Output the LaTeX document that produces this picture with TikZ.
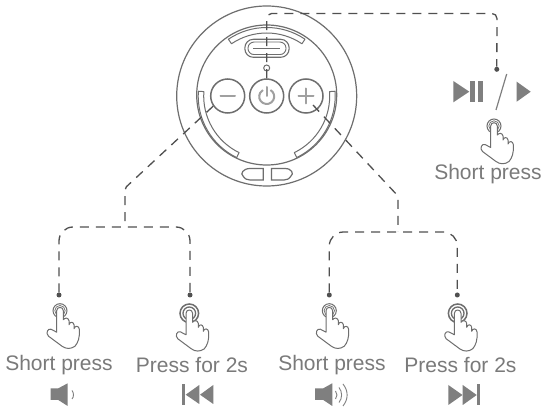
\documentclass[tikz,border=0pt]{standalone}
\usepackage{fontspec}
\usetikzlibrary{calc}
\setmainfont{Liberation Sans}
\definecolor{txt}{HTML}{7A7A7A}
\definecolor{ico}{HTML}{7F7F7F}
\definecolor{ln}{HTML}{505050}
\definecolor{dev}{HTML}{6E6E6E}
\definecolor{sym}{HTML}{A0A0A0}
\tikzset{
  x=1pt,y=-1pt,
  conn/.style={draw=ln,line width=1.3pt,dash pattern=on 9pt off 7pt,rounded corners=14pt},
  dotnode/.style={circle,fill=ln,draw=none,minimum size=5pt,inner sep=0pt},
  lab/.style={anchor=base,text=txt,font=\fontsize{21}{21}\selectfont,inner sep=0pt},
  ringline/.style={draw=dev,line width=1pt},
  devline/.style={draw=dev,line width=1.2pt},
  btn/.style={circle,draw=dev,line width=1.5pt,minimum size=34pt,inner sep=0pt},
  symline/.style={draw=sym,line width=2pt,line cap=round},
  iconfill/.style={fill=ico,draw=none},
  pics/handshape/.style={code={
    \draw[ringline,fill=white,line join=round]
      (-3.3,20) -- (-3.3,0) .. controls (-3.3,-4.4) and (3.3,-4.4) .. (3.3,0) -- (3.3,9)
      .. controls (5,6.5) and (8.5,7) .. (9,10) -- (9,14)
      .. controls (10,10.5) and (13.5,11) .. (14,14) -- (14,18)
      .. controls (15,14.5) and (19,15) .. (19.3,18.5)
      .. controls (20,27) and (18,32) .. (15,35.5)
      .. controls (11,38.5) and (6,38.5) .. (2,35.5)
      -- (-11.5,25.5)
      .. controls (-14.5,22.5) and (-12.5,17.5) .. (-9,18.5)
      -- (-3.3,21.5) -- cycle;
  }},
  pics/shorthand/.style={code={
    \draw[ringline] (0,0) circle[radius=7];
    \draw[draw=dev,line width=.7pt] (0,0) circle[radius=5.2];
    \pic {handshape};
  }},
  pics/longhand/.style={code={
    \draw[draw=dev,line width=1.5pt] (0,0) circle[radius=9.3];
    \draw[draw=dev,line width=1.3pt] (0,0) circle[radius=6.3];
    \pic {handshape};
  }},
}
\begin{document}
\begin{tikzpicture}
\useasboundingbox (0,0) rectangle (550,414);
\fill[white] (0,0) rectangle (550,414);
% device body
\draw[devline] (266.7,96) circle[radius=90];
\draw[devline] (266.7,95) circle[radius=70];
% light arcs
\foreach \a/\b in {-124/-56,116/184,-4/64}{
  \draw[devline,line width=1pt,fill=white,line join=round]
    ($(266.7,96)+(\a:68.5)$) arc[start angle=\a,end angle=\b,radius=68.5]
    -- ($(266.7,96)+(\b:63)$) arc[start angle=\b,end angle=\a,radius=63] -- cycle;
}
% top oblong button
\node[draw=dev,line width=1.1pt,rounded corners=8.5pt,minimum width=44.3pt,minimum height=18pt,inner sep=0pt] (oblong) at (267,48.3) {};
\node[draw=dev,line width=.9pt,rounded corners=6pt,minimum width=38pt,minimum height=12.5pt,inner sep=0pt] (oblongin) at (267,48.3) {};
\node[circle,draw=dev,line width=1pt,minimum size=6pt,inner sep=0pt] (led) at (266.7,68) {};
\node[btn] (minus) at (227.7,96) {};
\node[btn] (power) at (266.7,96) {};
\node[btn] (plus) at (306,96) {};
\draw[symline] (220.5,96) -- (235,96);
\draw[symline] (298.5,96) -- (313.5,96);
\draw[symline] (306,88.5) -- (306,103.5);
\draw[symline,line cap=butt] ($(266.7,96.5)+(-60:7.5)$) arc[start angle=-60,end angle=240,radius=7.5];
\draw[symline] (266.7,87) -- (266.7,96);
% bottom D shapes
\draw[devline] (263.3,168.5) -- (250,168.5) .. controls (243,168.5) and (240,174) .. (243,176) .. controls (245,179) and (247,180) .. (250,180) -- (263.3,180) -- cycle;
\draw[devline] (271.5,168.5) -- (285,168.5) .. controls (292,168.5) and (294,174) .. (291,176) .. controls (289,179) and (287,180) .. (284,180) -- (271.5,180) -- cycle;
% oblong line
\draw[devline,line width=1pt] (253,48.3) -- (280,48.3);
% dots
\node[dotnode] (dtop) at (496.8,69.3) {};
\node[dotnode] (d1) at (59,295) {};
\node[dotnode] (d2) at (190,295) {};
\node[dotnode] (d3) at (329.3,295) {};
\node[dotnode] (d4) at (457.3,295) {};
\coordinate (tc1) at (266.7,13.5);
\coordinate (tc2) at (497,13.5);
\coordinate (le) at (125,188);
\coordinate (lj) at (125,227);
\coordinate (lc1) at (59,227);
\coordinate (lc2) at (190,227);
\coordinate (re) at (398,196);
\coordinate (rj) at (398,232);
\coordinate (rc1) at (329.3,232);
\coordinate (rc2) at (457.3,232);
\coordinate (mstart) at (minus.215);
\coordinate (pstart) at (313,105);
% connectors
\draw[conn,rounded corners=5pt] (power.north) -- (tc1) -- (tc2) -- (dtop);
\draw[conn,rounded corners=2pt] (mstart) -- (le) -- (lj);
\draw[conn] (d1) -- (lc1) -- (lc2) -- (d2);
\draw[conn,rounded corners=2pt] (pstart) -- (re) -- (rj);
\draw[conn] (d3) -- (rc1) -- (rc2) -- (d4);
% hands
\pic at (60,310.7) {shorthand};
\pic at (189.3,313.3) {longhand};
\pic at (329.3,310.7) {shorthand};
\pic at (457.7,313.3) {longhand};
\pic at (494,126) {shorthand};
% labels
\node[lab] (t1) at (59,370.7) {Short press};
\node[lab] (t2) at (192,372.6) {Press for 2s};
\node[lab] (t3) at (332,370.7) {Short press};
\node[lab] (t4) at (460.5,372.6) {Press for 2s};
\node[lab] (t5) at (488,180) {Short press};
% speaker 1
\fill[iconfill] (50.7,388.3) -- (58.3,388.3) -- (67.7,383.3) -- (67.7,406) -- (58.3,400) -- (50.7,400) -- cycle;
\draw[draw=ico,line width=.9pt] (72,390.5) .. controls (74,393) and (74,397) .. (72,399);
% prev
\fill[iconfill] (181.7,384.3) rectangle (185,405);
\fill[iconfill] (185.7,394.7) -- (199.3,385) -- (199.3,404) -- cycle;
\fill[iconfill] (200,394.7) -- (213.3,385) -- (213.3,404) -- cycle;
% speaker 2
\fill[iconfill] (315,388.3) -- (323.3,388.3) -- (332.3,383.3) -- (332.3,406) -- (323.3,400) -- (315,400) -- cycle;
\draw[draw=ico,line width=.9pt] (335.5,391) .. controls (337.5,393.5) and (337.5,396.5) .. (335.5,399);
\draw[draw=ico,line width=.9pt] (339,387.5) .. controls (342.5,392) and (342.5,398) .. (339,402.5);
\draw[draw=ico,line width=.9pt] (343,384) .. controls (348.5,391) and (348.5,399) .. (343,406);
% next
\fill[iconfill] (448.3,385) -- (462.5,395) -- (448.3,405) -- cycle;
\fill[iconfill] (462.7,385) -- (476.7,395) -- (462.7,405) -- cycle;
\fill[iconfill] (476.7,384.3) rectangle (480,405);
% play/pause, slash, play
\fill[iconfill] (453.3,81) -- (469.3,91.7) -- (453.3,102.3) -- cycle;
\fill[iconfill] (470.3,81) rectangle (475.3,102.3);
\fill[iconfill] (478.3,81) rectangle (483.3,102.3);
\draw[draw=ico,line width=1.2pt] (506.7,74) -- (496,110);
\fill[iconfill] (516.7,81.7) -- (530.7,91.7) -- (516.7,101.7) -- cycle;
\end{tikzpicture}
\end{document}
